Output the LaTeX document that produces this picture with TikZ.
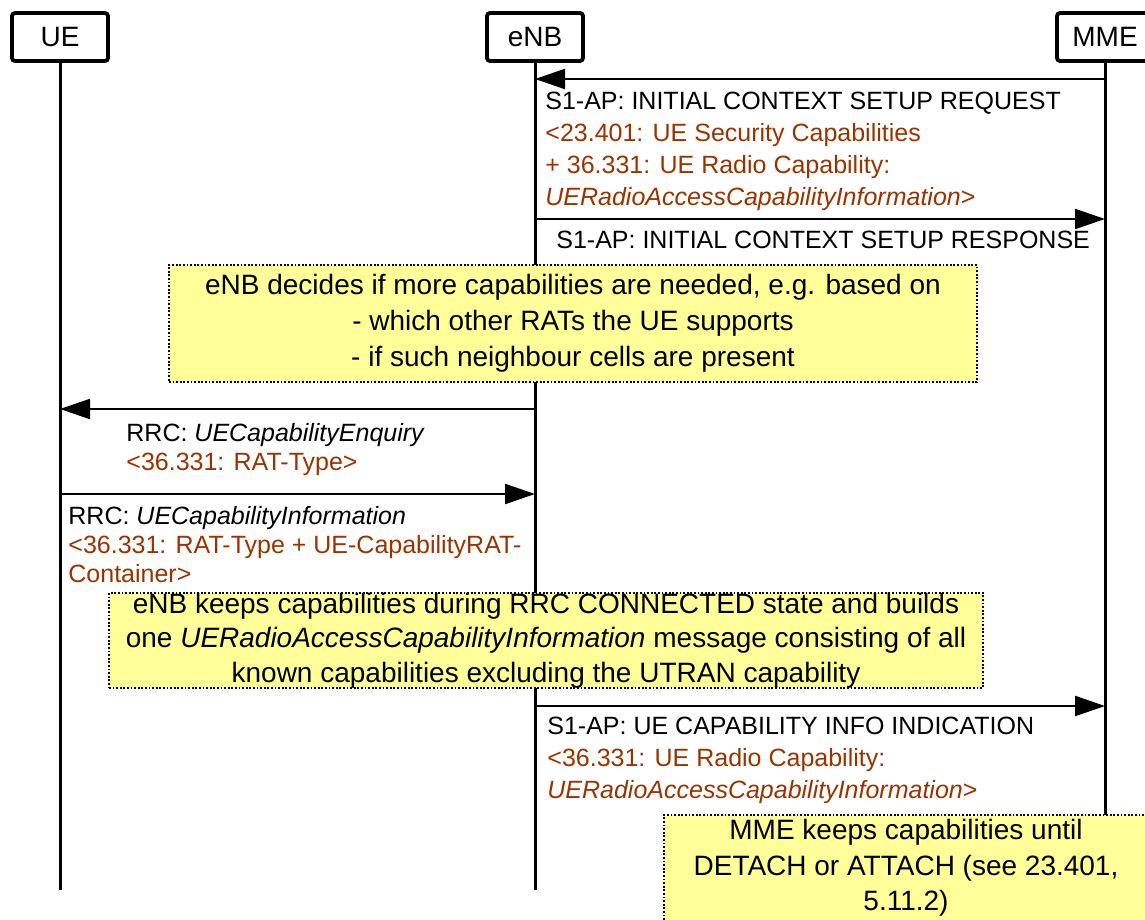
\documentclass[tikz,border=0pt]{standalone}
\usepackage{fontspec}
\setmainfont{Liberation Sans}
\usetikzlibrary{arrows.meta,positioning}
\definecolor{specred}{RGB}{153,51,0}
\definecolor{noteyellow}{RGB}{255,255,153}
\begin{document}
\begin{tikzpicture}[x=0.5pt,y=-0.5pt,
  entity/.style={draw,line width=1.9pt,rounded corners=1.5pt,minimum width=48pt,minimum height=24pt,inner sep=0pt,font=\fontsize{14}{17}\selectfont},
  life/.style={line width=1.5pt},
  msg/.style={line width=1.1pt,-{Triangle[length=15pt,width=10pt]}},
  lbl/.style={anchor=north west,inner sep=0pt,align=left,font=\fontsize{12.5}{16}\selectfont},
  rrclbl/.style={lbl,font=\fontsize{12.5}{14.5}\selectfont},
  note/.style={draw,dash pattern=on 0.9pt off 0.9pt,line width=0.8pt,fill=noteyellow,align=center,inner sep=0pt}]
\useasboundingbox (0,0) rectangle (1145,920);
\node[entity] (ue) at (60,37) {UE};
\node[entity] (enb) at (535,37) {eNB};
\node[entity] (mme) at (1105,37) {MME};
\draw[life] (ue.south) -- (ue.south |- 0,890);
\draw[life] (enb.south) -- (enb.south |- 0,890);
\draw[life] (mme.south) -- (mme.south |- 0,815);
\draw[msg] (mme.south |- 0,79) -- (enb.south |- 0,79);
\node[lbl] (req) at (545,92) {S1-AP: INITIAL CONTEXT SETUP REQUEST\\\textcolor{specred}{<23.401: UE Security Capabilities}\\\textcolor{specred}{+ 36.331: UE Radio Capability:}\\\textcolor{specred}{\textit{UERadioAccessCapabilityInformation}>}};
\draw[msg] (enb.south |- 0,219) -- (mme.south |- 0,219);
\node[lbl] (rsp) at (556,231) {S1-AP: INITIAL CONTEXT SETUP RESPONSE};
\node[note,minimum width=404pt,minimum height=58.5pt,font=\fontsize{14}{18}\selectfont] (decide) at (573,323.5) {eNB decides if more capabilities are needed, e.g. based on\\- which other RATs the UE supports\\- if such neighbour cells are present};
\draw[msg] (enb.south |- 0,409) -- (ue.south |- 0,409);
\node[rrclbl] (enq) at (126,423) {RRC: \textit{UECapabilityEnquiry}\\\textcolor{specred}{<36.331: RAT-Type>}};
\draw[msg] (ue.south |- 0,494) -- (enb.south |- 0,494);
\node[rrclbl] (info) at (68,506) {RRC: \textit{UECapabilityInformation}\\\textcolor{specred}{<36.331: RAT-Type + UE-CapabilityRAT-}\\\textcolor{specred}{Container>}};
\node[note,minimum width=437pt,minimum height=47.5pt,font=\fontsize{14}{17.25}\selectfont] (keep) at (546,640.5) {eNB keeps capabilities during RRC CONNECTED state and builds\\one \textit{UERadioAccessCapabilityInformation} message consisting of all\\known capabilities excluding the UTRAN capability};
\draw[msg] (enb.south |- 0,706) -- (mme.south |- 0,706);
\node[lbl] (ind) at (547,717) {S1-AP: UE CAPABILITY INFO INDICATION\\\textcolor{specred}{<36.331: UE Radio Capability:}\\\textcolor{specred}{\textit{UERadioAccessCapabilityInformation}>}};
\node[note,minimum width=242pt,minimum height=53pt,font=\fontsize{14}{17.75}\selectfont] (store) at (906,868) {MME keeps capabilities until\\DETACH or ATTACH (see 23.401,\\5.11.2)};
\end{tikzpicture}
\end{document}
